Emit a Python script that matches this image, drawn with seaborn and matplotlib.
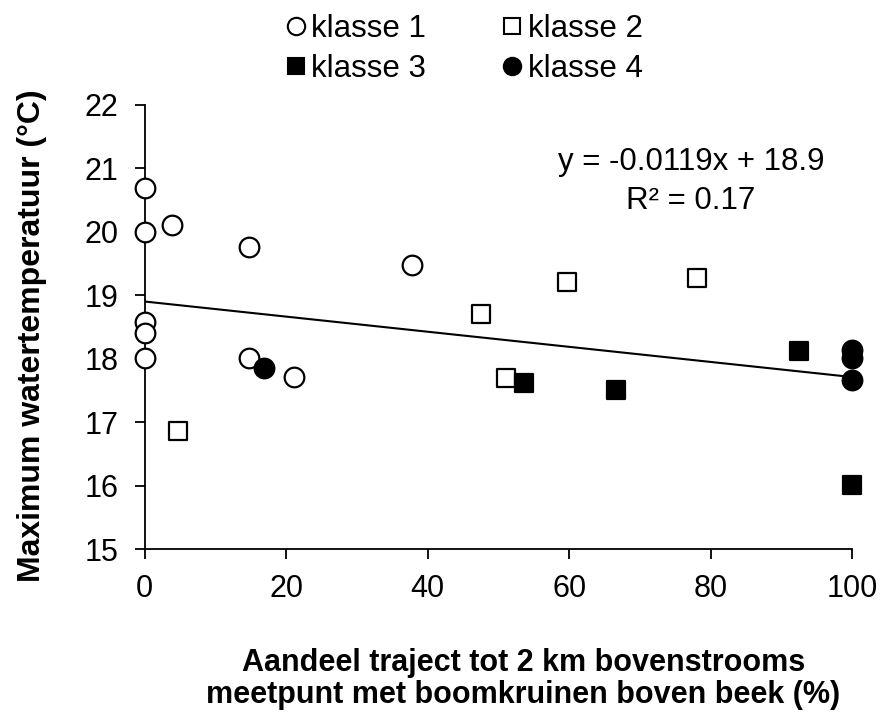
import numpy as np
import pandas as pd
import matplotlib
matplotlib.use("Agg")
import matplotlib.pyplot as plt
from matplotlib.lines import Line2D
import seaborn as sns

sns.set_theme(style="white")
plt.rcParams["font.family"] = ["Liberation Sans", "DejaVu Sans"]
plt.rcParams["text.color"] = "black"
plt.rcParams["axes.labelcolor"] = "black"

# Share of stream reach (up to 2 km upstream) with tree canopy (%) and max water temperature (°C)
klasse1_x = [0.0, 0.0, 3.8, 14.7, 0.0, 0.0, 0.0, 14.7, 21.1, 37.8]
klasse1_y = [20.69, 20.0, 20.11, 19.76, 18.58, 18.41, 18.01, 18.01, 17.71, 19.48]
klasse2_x = [4.7, 47.5, 59.7, 78.1, 51.1]
klasse2_y = [16.86, 18.70, 19.21, 19.27, 17.70]
klasse3_x = [53.6, 66.6, 92.5, 100.0]
klasse3_y = [17.62, 17.51, 18.12, 16.01]
klasse4_x = [16.8, 100.0, 100.0, 100.0]
klasse4_y = [17.85, 18.14, 18.01, 17.66]

slope = -0.0119
intercept = 18.9
r_squared = 0.17

x_ticks = [0, 20, 40, 60, 80, 100]
y_ticks = [15, 16, 17, 18, 19, 20, 21, 22]

series = [
    ("klasse 1", klasse1_x, klasse1_y, "o", "white"),
    ("klasse 2", klasse2_x, klasse2_y, "s", "white"),
    ("klasse 3", klasse3_x, klasse3_y, "s", "black"),
    ("klasse 4", klasse4_x, klasse4_y, "o", "black"),
]

fig = plt.figure(figsize=(8.83, 7.13), dpi=100)
ax = fig.add_axes([0.164, 0.230, 0.801, 0.623])

# trend line
trend = pd.DataFrame({"x": [0.0, 100.0]})
trend["y"] = slope * trend["x"] + intercept
sns.lineplot(data=trend, x="x", y="y", ax=ax, color="black", linewidth=1.5, zorder=2)

for name, xs, ys, marker, face in series:
    df = pd.DataFrame({"x": xs, "y": ys})
    sns.scatterplot(data=df, x="x", y="y", ax=ax, marker=marker,
                    s=200 if marker == "o" else 185,
                    facecolor=face, edgecolor="black", linewidth=1.6,
                    zorder=3, clip_on=False)

ax.set_xlim(0, 100)
ax.set_ylim(15, 22)
ax.set_xticks(x_ticks)
ax.set_yticks(y_ticks)
ax.tick_params(axis="both", labelsize=22, direction="out", length=7, width=1.3,
               color="black", labelcolor="black", left=True, bottom=True)
ax.tick_params(axis="x", pad=11)
ax.tick_params(axis="y", pad=12)
for side in ["top", "right"]:
    ax.spines[side].set_visible(False)
for side in ["left", "bottom"]:
    ax.spines[side].set_color("black")
    ax.spines[side].set_linewidth(1.3)
ax.set_facecolor("white")
ax.margins(0)

ax.set_xlabel("Aandeel traject tot 2 km bovenstrooms\nmeetpunt met boomkruinen boven beek (%)",
              fontsize=22, fontweight="bold", linespacing=1.12, color="black")
ax.xaxis.set_label_coords(0.535, -0.222)
ax.set_ylabel("Maximum watertemperatuur (°C)", fontsize=23, fontweight="bold", color="black")
ax.yaxis.set_label_coords(-0.138, 0.48)

ax.text(77.2, 21.10, f"y = {slope}x + {intercept}", fontsize=22.5, ha="center", va="center",
        color="black")
ax.text(77.2, 20.48, f"R² = {r_squared}", fontsize=22.5, ha="center", va="center",
        color="black")

# legend laid out row by row: klasse 1, klasse 2 / klasse 3, klasse 4
order = [0, 2, 1, 3]
handles = [Line2D([], [], linestyle="none", marker=series[i][3],
                  markersize=12.5 if series[i][3] == "o" else 12,
                  markerfacecolor=series[i][4], markeredgecolor="black", markeredgewidth=1.5)
           for i in order]
labels = [series[i][0] for i in order]
leg = fig.legend(handles, labels, loc="upper center", bbox_to_anchor=(0.525, 1.02), ncol=2,
                 frameon=False, fontsize=22.5, handlelength=0.7, handletextpad=0.15,
                 columnspacing=2.4, labelspacing=0.32)
for t in leg.get_texts():
    t.set_color("black")

fig.savefig("out.png", dpi=100, facecolor="white")
